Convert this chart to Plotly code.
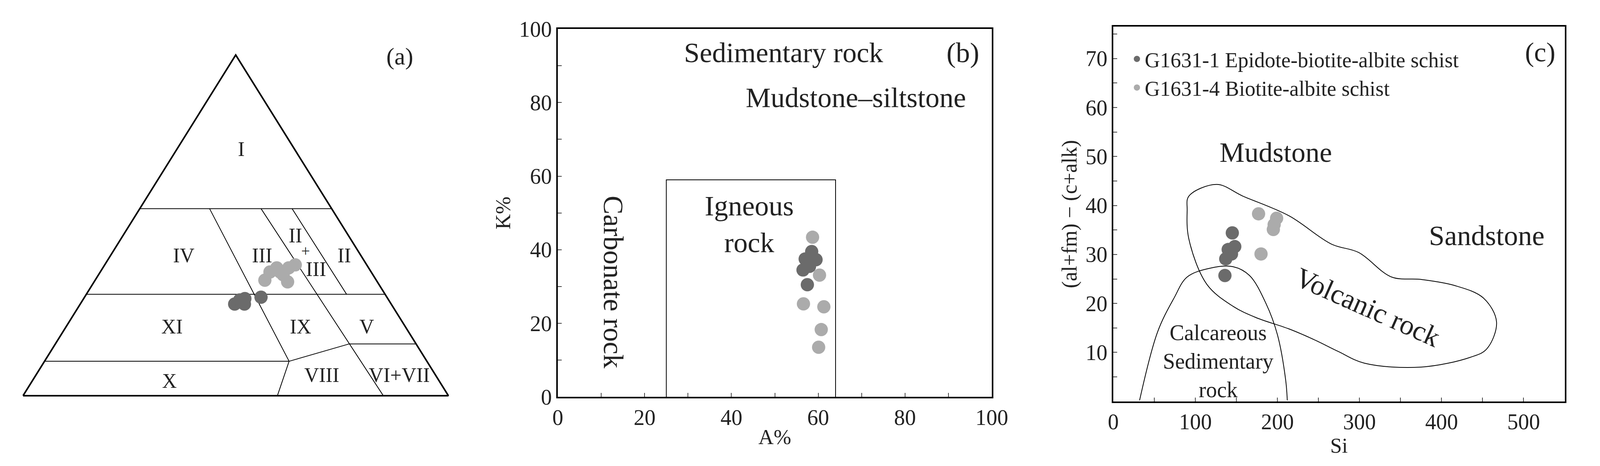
import plotly.graph_objects as go

## DATA

# panel (a): ternary A - C - FM, points given as A% and FM% (C = rest)
a_dark_A = [26.9, 28.1, 26.9, 28.5, 28.9]
a_dark_FM = [36.3, 36.9, 38.6, 37.9, 41.5]
a_light_A = [33.9, 36.3, 36.3, 37.5, 38.4, 33.4, 35.5, 37.5]
a_light_FM = [39.9, 39.9, 42.3, 43.7, 44.8, 45.5, 43.4, 40.9]

# field boundaries in (a), each as list of (A%, FM%)
a_bounds = [
    [(54.9, 45.1), (54.9, 0.0)],
    [(29.75, 70.25), (29.75, 0.0)],
    [(10.1, 57.5), (10.1, 0.0)],
    [(15.2, 84.8), (15.2, 69.1)],
    [(54.9, 16.4), (10.1, 57.5), (0.0, 59.8)],
    [(54.9, 28.5), (0.0, 84.7)],
    [(54.9, 35.8), (29.75, 61.2)],
    [(10.1, 57.5), (15.2, 69.1)],
]
a_labels = ["I", "IV", "III", "II", "+", "III", "II", "XI", "IX", "V", "X", "VIII", "VI+VII"]
a_label_A = [72.4, 41.2, 41.2, 47.0, 42.5, 37.1, 41.2, 20.3, 20.3, 20.3, 4.3, 6.0, 6.0]
a_label_FM = [15.1, 17.2, 35.6, 40.6, 45.2, 50.3, 54.9, 24.9, 55.1, 70.7, 32.3, 67.3, 85.4]

# panel (b): A% vs K%
b_dark_A = [58.5, 57.0, 59.5, 56.5, 58.0, 57.5]
b_dark_K = [39.5, 37.5, 37.3, 34.5, 35.5, 30.5]
b_light_A = [58.7, 60.3, 56.6, 61.3, 60.7, 60.1]
b_light_K = [43.4, 33.1, 25.3, 24.5, 18.3, 13.5]
igneous_A = [25, 25, 64, 64]
igneous_K = [0, 59, 59, 0]

# panel (c): Si vs (al+fm)-(c+alk)
c_dark_si = [145, 148, 140, 144, 137, 136]
c_dark_v = [34.4, 31.6, 31.0, 30.1, 29.1, 25.7]
c_light_si = [177, 199, 196, 195, 180]
c_light_v = [38.3, 37.4, 36.1, 35.1, 30.1]
volc_si = [92, 126, 158, 214, 266, 299, 339, 375, 415, 451, 467, 455, 435, 375, 306, 274, 246, 214, 174, 146, 114, 92, 90, 92]
volc_v = [41.9, 44.3, 41.9, 37.9, 32.1, 30.4, 25.4, 24.9, 23.7, 21.1, 16.2, 10.7, 9.0, 7.0, 7.8, 10.2, 12.5, 14.8, 17.1, 19.4, 23.9, 33.2, 39.0, 41.9]
calc_si = [32, 54, 74, 90, 118, 146, 166, 186, 200, 210, 212]
calc_v = [0.2, 14.2, 21.1, 25.4, 27.2, 27.5, 25.7, 20.0, 13.6, 4.4, 0.2]

DARK = "#6b6b6b"
LIGHT = "#ababab"
FONT = "Liberation Serif"
INK = "#222"
MS = 34


def tern(A, FM):
    return FM / 100 + A / 200, A / 100


fig = go.Figure()

## PANEL (a)
tx, ty = [], []
for p in [(0, 0), (0, 100), (100, 0), (0, 0)]:
    x, y = tern(*p)
    tx.append(x)
    ty.append(y)
fig.add_trace(go.Scatter(x=tx, y=ty, mode="lines", line=dict(color="black", width=4),
                         xaxis="x3", yaxis="y3", showlegend=False))
for seg in a_bounds:
    xs, ys = zip(*[tern(A, FM) for A, FM in seg])
    fig.add_trace(go.Scatter(x=xs, y=ys, mode="lines", line=dict(color="black", width=2),
                             xaxis="x3", yaxis="y3", showlegend=False))
for A, FM, col in [(a_light_A, a_light_FM, LIGHT), (a_dark_A, a_dark_FM, DARK)]:
    pts = [tern(a, f) for a, f in zip(A, FM)]
    fig.add_trace(go.Scatter(x=[p[0] for p in pts], y=[p[1] for p in pts], mode="markers",
                             marker=dict(color=col, size=MS), xaxis="x3", yaxis="y3", showlegend=False))
for lab, A, FM in zip(a_labels, a_label_A, a_label_FM):
    x, y = tern(A, FM)
    fig.add_annotation(x=x, y=y, xref="x3", yref="y3", text=lab, showarrow=False,
                       font=dict(family=FONT, size=52 if lab != "+" else 40, color=INK))
for lab, x, y in [("A", 0.5, 1.055), ("C", 0.0, -0.07), ("FM", 0.975, -0.07), ("(a)", 0.886, 0.995)]:
    fig.add_annotation(x=x, y=y, xref="x3", yref="y3", text=lab, showarrow=False,
                       font=dict(family=FONT, size=62, color=INK))

## PANEL (b)
fig.add_trace(go.Scatter(x=igneous_A, y=igneous_K, mode="lines", line=dict(color="black", width=2),
                         xaxis="x", yaxis="y", showlegend=False))
fig.add_trace(go.Scatter(x=b_light_A, y=b_light_K, mode="markers", marker=dict(color=LIGHT, size=MS),
                         xaxis="x", yaxis="y", showlegend=False))
fig.add_trace(go.Scatter(x=b_dark_A, y=b_dark_K, mode="markers", marker=dict(color=DARK, size=MS),
                         xaxis="x", yaxis="y", showlegend=False))
for lab, x, y, ang in [("Sedimentary rock", 52, 93.5, 0), ("(b)", 93.3, 93.5, 0),
                       ("Mudstone–siltstone", 68.7, 81.3, 0), ("Carbonate rock", 12.8, 31.2, 90),
                       ("Igneous<br>rock", 44.1, 46.9, 0)]:
    fig.add_annotation(x=x, y=y, xref="x", yref="y", text=lab, showarrow=False, textangle=ang,
                       font=dict(family=FONT, size=72, color=INK))

## PANEL (c)
fig.add_trace(go.Scatter(x=volc_si, y=volc_v, mode="lines", line=dict(color="black", width=2, shape="spline"),
                         xaxis="x2", yaxis="y2", showlegend=False))
fig.add_trace(go.Scatter(x=calc_si, y=calc_v, mode="lines", line=dict(color="black", width=2, shape="spline"),
                         xaxis="x2", yaxis="y2", showlegend=False))
fig.add_trace(go.Scatter(x=c_dark_si, y=c_dark_v, mode="markers", marker=dict(color=DARK, size=MS),
                         name="G1631-1 Epidote-biotite-albite schist", xaxis="x2", yaxis="y2"))
fig.add_trace(go.Scatter(x=c_light_si, y=c_light_v, mode="markers", marker=dict(color=LIGHT, size=MS),
                         name="G1631-4 Biotite-albite schist", xaxis="x2", yaxis="y2"))
for lab, x, y, ang, sz in [("Mudstone", 198, 50.8, 0, 72), ("Sandstone", 455, 33.8, 0, 72),
                           ("Volcanic rock", 310, 19.2, 24, 72),
                           ("Calcareous<br>Sedimentary<br>rock", 128, 8.2, 0, 56), ("(c)", 520, 71.3, 0, 70)]:
    fig.add_annotation(x=x, y=y, xref="x2", yref="y2", text=lab, showarrow=False, textangle=ang,
                       font=dict(family=FONT, size=sz, color=INK))

ax = dict(showline=True, linecolor="black", linewidth=4, mirror=True, ticks="inside", ticklen=10,
          tickwidth=2, showgrid=False, zeroline=False, tickfont=dict(family=FONT, size=56, color=INK),
          title_font=dict(family=FONT, size=54, color=INK),
          minor=dict(ticks="inside", ticklen=10, tickwidth=2))
blank = dict(visible=False, showgrid=False, zeroline=False)

fig.update_layout(
    autosize=True, plot_bgcolor="white", paper_bgcolor="white",
    margin=dict(l=0, r=0, t=0, b=0),
    xaxis=dict(ax, domain=[0.350, 0.625], range=[0, 100], dtick=20, minor_dtick=10, title_text="A%",
               title_standoff=2),
    yaxis=dict(ax, domain=[0.128, 0.961], range=[0, 100], dtick=20, minor_dtick=10, title_text="K%",
               title_standoff=6),
    xaxis2=dict(ax, domain=[0.702, 0.988], range=[0, 550], tickvals=[0, 100, 200, 300, 400, 500],
                minor_dtick=50, title_text="Si", anchor="y2", title_standoff=2),
    yaxis2=dict(ax, domain=[0.118, 0.966], range=[0, 76.5], tickvals=[10, 20, 30, 40, 50, 60, 70],
                minor_dtick=5, title_text="(al+fm) − (c+alk)", anchor="x2", title_standoff=6),
    xaxis3=dict(blank, domain=[0.0098, 0.282], range=[-0.005, 1.005]),
    yaxis3=dict(blank, domain=[0.127, 0.906], range=[-0.005, 1.005]),
    legend=dict(x=0.712, y=0.93, xanchor="left", yanchor="top", bgcolor="rgba(0,0,0,0)",
                font=dict(family=FONT, size=54, color=INK), itemsizing="trace", tracegroupgap=0),
)

fig.write_html("out.html", default_width="100vw", default_height="100vh",
               config=dict(displayModeBar=False),
               post_script="document.body.style.margin='0';document.body.style.overflow='hidden';"
                           "Plotly.Plots.resize(document.getElementById('{plot_id}'));")
